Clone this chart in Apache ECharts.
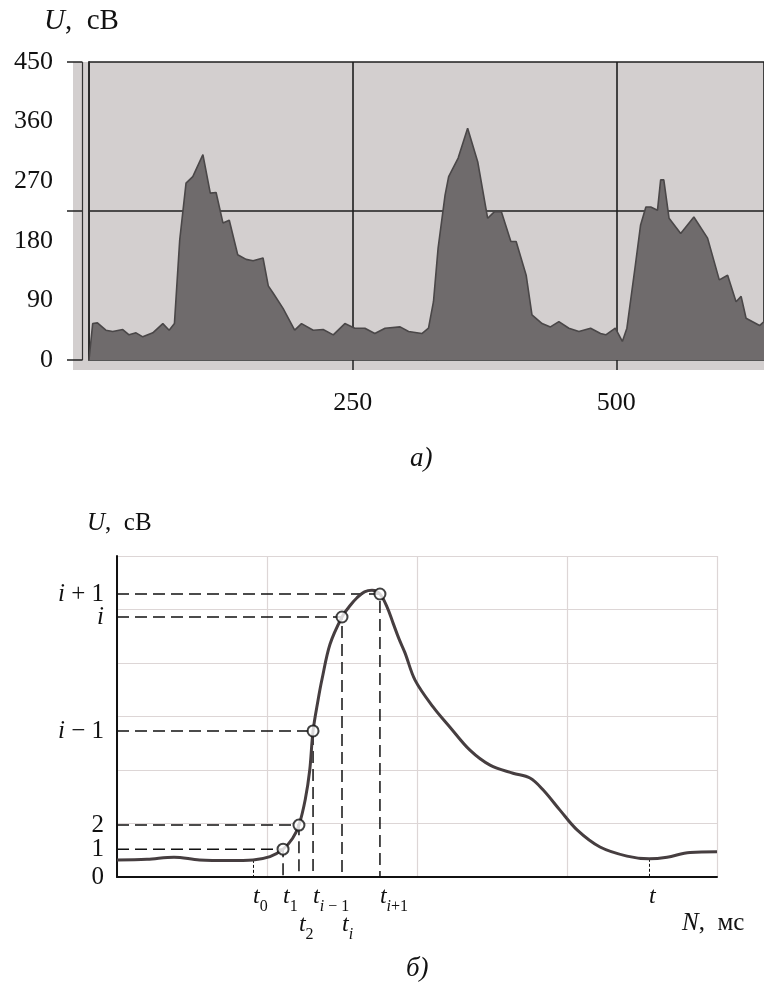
<!DOCTYPE html>
<html>
<head>
<meta charset="utf-8">
<script src="https://cdn.jsdelivr.net/npm/echarts@6/dist/echarts.min.js"></script>
<style>html,body{margin:0;padding:0;background:#fff}#c{width:764px;height:996px}</style>
</head>
<body>
<div id="c"></div>
<script>
// ---------- Panel a) : recorded signal ----------
const topN = [0, 3.5, 8, 16, 22.5, 32, 38, 44.6, 51, 60.5, 70, 76, 81, 86, 92, 98.4, 108, 115, 120.5, 127, 133, 141, 149, 155.6, 165, 170, 175, 184, 195, 201.5, 212.6, 222, 231.6, 242.6, 252, 261.6, 271, 280.7, 295, 303, 315.6, 321.9, 326.6, 331, 337.6, 341, 350, 359, 368.6, 378, 384.5, 391, 400, 405, 414.5, 420, 429.6, 437.5, 445.5, 455, 464.5, 475.6, 485, 490, 499, 505.7, 510, 518, 523, 528, 532.6, 539, 542, 545, 550, 561, 573.5, 586.5, 597.6, 605.5, 613.5, 618.3, 623, 635.8, 640];
const topU = [0, 55, 56, 45, 43, 46, 38, 41, 35, 41, 55, 45, 55, 181, 267, 277, 310, 252, 253, 207, 211, 159, 152, 150, 154, 112, 100, 78, 45, 55, 45, 46, 38, 55, 48, 48, 40, 48, 50, 43, 40, 48, 88, 169, 249, 277, 305, 350, 299, 214, 224, 224, 179, 179, 128, 68, 55, 50, 58, 48, 43, 48, 40, 38, 48, 28, 48, 143, 204, 231, 231, 226, 272, 272, 214, 191, 216, 184, 121, 128, 88, 96, 63, 52, 58];

// ---------- Panel б) : smoothed pulse ----------
const curveN = [0, 0.2, 0.38, 0.55, 0.75, 0.907, 1.02, 1.107, 1.17, 1.213, 1.255, 1.285, 1.307, 1.34, 1.367, 1.42, 1.5, 1.55, 1.6, 1.65, 1.7, 1.753, 1.8, 1.84, 1.88, 1.92, 1.987, 2.107, 2.22, 2.353, 2.487, 2.64, 2.753, 2.84, 2.953, 3.067, 3.22, 3.4, 3.547, 3.667, 3.82, 4.0];
const curveU = [0.32, 0.33, 0.37, 0.32, 0.31, 0.32, 0.38, 0.52, 0.72, 0.97, 1.45, 2.0, 2.73, 3.3, 3.7, 4.35, 4.86, 5.06, 5.22, 5.33, 5.36, 5.29, 5.05, 4.75, 4.45, 4.19, 3.68, 3.18, 2.80, 2.37, 2.09, 1.94, 1.85, 1.63, 1.25, 0.88, 0.56, 0.39, 0.34, 0.37, 0.46, 0.47];

const pointT = [1.107, 1.213, 1.307, 1.5, 1.753];
const pointU = [0.52, 0.97, 2.73, 4.86, 5.29];
const levelLabels = ['0', '1', '2', 'i − 1', 'i', 'i + 1'];

const markT = [0.907, 3.547];
const markU = [0.32, 0.34];

const tickT = [0.907, 1.107, 1.213, 1.307, 1.5, 1.753, 3.547];
const tickSub = ['0', '1', '2', 'i − 1', 'i', 'i+1', ''];

const SERIF = '"Liberation Serif", "DejaVu Serif", serif';

function fmtSub(s) {
  if (!s) return '{t|t}';
  const parts = s.split(/(i)/).filter(p => p.length);
  return '{t|t}' + parts.map(p => p === 'i' ? '{si|i}' : '{sn|' + p + '}').join('');
}
function fmtLevel(s) {
  return s.split(/(i)/).filter(p => p.length).map(p => p === 'i' ? '{it|i}' : '{n|' + p + '}').join('');
}
function findIdx(arr, v) {
  let best = 0, d = Infinity;
  arr.forEach((a, k) => { const dd = Math.abs(a - v); if (dd < d) { d = dd; best = k; } });
  return best;
}

const row2Idx = [2, 4];
const row1Vals = tickT.filter((v, k) => row2Idx.indexOf(k) < 0);
const row2Vals = tickT.filter((v, k) => row2Idx.indexOf(k) >= 0);
const levelVals = [0].concat(pointU);
const levelValsA = levelVals.filter((v, k) => k % 2 === 0);
const levelValsB = levelVals.filter((v, k) => k % 2 === 1);

const subRich = {
  t: { fontFamily: SERIF, fontStyle: 'italic', fontSize: 24, lineHeight: 30, verticalAlign: 'top', color: '#111' },
  si: { fontFamily: SERIF, fontStyle: 'italic', fontSize: 16, lineHeight: 16, verticalAlign: 'bottom', color: '#111' },
  sn: { fontFamily: SERIF, fontSize: 16, lineHeight: 16, verticalAlign: 'bottom', color: '#111' }
};
const levelRich = {
  it: { fontFamily: SERIF, fontStyle: 'italic', fontSize: 25, lineHeight: 16, color: '#111' },
  n: { fontFamily: SERIF, fontSize: 25, lineHeight: 16, color: '#111' }
};

function levelAxis(vals) {
  return { gridIndex: 1, type: 'value', min: 0, max: 6, position: 'left',
    axisLine: { show: false }, axisTick: { show: false }, splitLine: { show: false },
    axisLabel: { show: true, hideOverlap: false, customValues: vals, margin: 13,
      formatter: v => fmtLevel(levelLabels[findIdx(levelVals, v)]), rich: levelRich } };
}

const chart = echarts.init(document.getElementById('c'), null, { renderer: 'canvas' });

const guideData = pointT.map((t, k) => ({ coords: [[0, pointU[k]], [t, pointU[k]], [t, 0]] }));
const markData = markT.map((t, k) => ({ coords: [[t, markU[k]], [t, 0]] }));

chart.setOption({
  animation: false,
  backgroundColor: '#ffffff',
  graphic: [
    { type: 'rect', z: -10, shape: { x: 73, y: 62, width: 691, height: 308 }, style: { fill: '#d3cfcf' } },
    { type: 'text', left: 44, top: 7, style: { text: '{i|U}{n|,  сВ}', rich: {
        i: { fontFamily: SERIF, fontStyle: 'italic', fontSize: 29, fill: '#111' },
        n: { fontFamily: SERIF, fontSize: 29, fill: '#111' } } } },
    { type: 'text', left: 410, top: 445, style: { text: 'а)', font: 'italic 27px ' + SERIF, fill: '#111' } },
    { type: 'text', left: 87, top: 511, style: { text: '{i|U}{n|,  сВ}', rich: {
        i: { fontFamily: SERIF, fontStyle: 'italic', fontSize: 25, fill: '#111' },
        n: { fontFamily: SERIF, fontSize: 25, fill: '#111' } } } },
    { type: 'text', left: 682, top: 911, style: { text: '{i|N}{n|,  мс}', rich: {
        i: { fontFamily: SERIF, fontStyle: 'italic', fontSize: 25, fill: '#111' },
        n: { fontFamily: SERIF, fontSize: 25, fill: '#111' } } } },
    { type: 'text', left: 406, top: 955, style: { text: 'б)', font: 'italic 27px ' + SERIF, fill: '#111' } }
  ],
  grid: [
    { left: 89, top: 62, width: 675, height: 298 },
    { left: 117, top: 556, width: 600, height: 321 }
  ],
  xAxis: [
    { gridIndex: 0, type: 'value', min: 0, max: 640, interval: 250, position: 'bottom',
      axisLine: { show: true, lineStyle: { color: '#555', width: 1 } },
      axisTick: { show: true, length: 10, lineStyle: { color: '#222', width: 1.5 } },
      axisLabel: { showMinLabel: false, showMaxLabel: false, margin: 30, fontSize: 26, fontFamily: SERIF, color: '#111' },
      splitLine: { show: true, lineStyle: { color: '#1e1e1e', width: 1.6 } } },
    { gridIndex: 1, type: 'value', min: 0, max: 4, interval: 1, position: 'bottom',
      axisLine: { show: true, onZero: false, lineStyle: { color: '#111', width: 2 } },
      axisTick: { show: false }, axisLabel: { show: false },
      splitLine: { show: true, lineStyle: { color: '#ddd6d6', width: 1.2 } } },
    { gridIndex: 1, type: 'value', min: 0, max: 4, position: 'bottom',
      axisLine: { show: false }, axisTick: { show: false }, splitLine: { show: false },
      axisLabel: { show: true, hideOverlap: false, customValues: row1Vals, margin: 8, align: 'left',
        formatter: v => fmtSub(tickSub[findIdx(tickT, v)]), rich: subRich } },
    { gridIndex: 1, type: 'value', min: 0, max: 4, position: 'bottom',
      axisLine: { show: false }, axisTick: { show: false }, splitLine: { show: false },
      axisLabel: { show: true, hideOverlap: false, customValues: row2Vals, margin: 36, align: 'left',
        formatter: v => fmtSub(tickSub[findIdx(tickT, v)]), rich: subRich } }
  ],
  yAxis: [
    { gridIndex: 0, type: 'value', min: 0, max: 450, interval: 90, position: 'left',
      axisLine: { show: true, lineStyle: { color: '#2a2a2a', width: 2 } },
      axisTick: { show: false }, splitLine: { show: false },
      axisLabel: { margin: 36, fontSize: 26, fontFamily: SERIF, color: '#111' } },
    { gridIndex: 0, type: 'value', min: 0, max: 450, interval: 225, position: 'left', offset: 7,
      axisLine: { show: true, lineStyle: { color: '#333', width: 1.2 } },
      axisTick: { show: true, length: 15, lineStyle: { color: '#222', width: 1.5 } },
      axisLabel: { show: false },
      splitLine: { show: true, lineStyle: { color: '#1e1e1e', width: 1.6 } } },
    { gridIndex: 1, type: 'value', min: 0, max: 6, interval: 1, position: 'left',
      axisLine: { show: true, onZero: false, lineStyle: { color: '#111', width: 2 } },
      axisTick: { show: false }, axisLabel: { show: false },
      splitLine: { show: true, lineStyle: { color: '#ddd6d6', width: 1.2 } } },
    levelAxis(levelValsA),
    levelAxis(levelValsB)
  ],
  series: [
    { type: 'line', xAxisIndex: 0, yAxisIndex: 0, symbol: 'none', z: 2,
      data: topN.map((n, k) => [n, topU[k]]),
      lineStyle: { color: '#4a4748', width: 1.6 },
      areaStyle: { color: '#6f6b6c', opacity: 1 } },
    { type: 'lines', coordinateSystem: 'cartesian2d', xAxisIndex: 1, yAxisIndex: 2, polyline: true, silent: true, z: 3,
      data: guideData, lineStyle: { color: '#111', width: 1.5, type: [12, 6], opacity: 1 } },
    { type: 'lines', coordinateSystem: 'cartesian2d', xAxisIndex: 1, yAxisIndex: 2, polyline: false, silent: true, z: 3,
      data: markData, lineStyle: { color: '#111', width: 1, type: [3, 2], opacity: 1 } },
    { type: 'line', xAxisIndex: 1, yAxisIndex: 2, symbol: 'none', smooth: 0.35, z: 4,
      data: curveN.map((n, k) => [n, curveU[k]]),
      lineStyle: { color: '#463e40', width: 3 } },
    { type: 'scatter', xAxisIndex: 1, yAxisIndex: 2, symbol: 'emptyCircle', symbolSize: 11, z: 5,
      data: pointT.map((t, k) => [t, pointU[k]]),
      itemStyle: { color: '#111', borderWidth: 1.3 } }
  ]
});
</script>
</body>
</html>
